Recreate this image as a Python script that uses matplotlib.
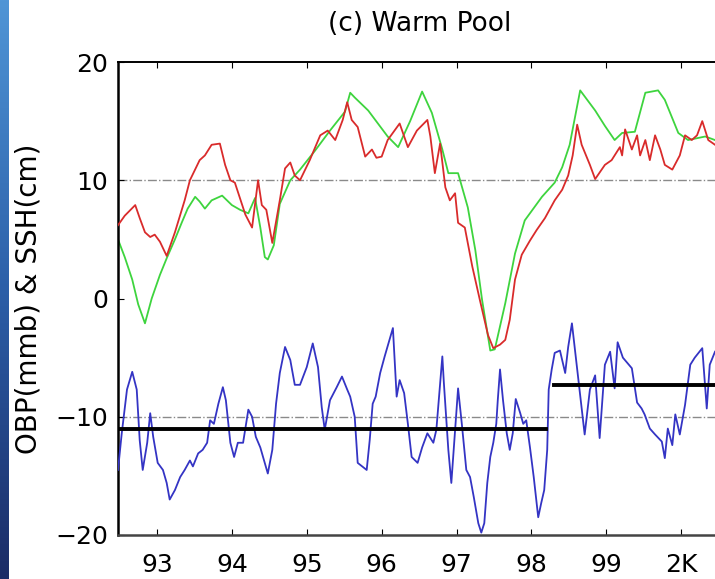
import numpy as np
import matplotlib.pyplot as plt
from matplotlib.colors import LinearSegmentedColormap

# SSH (green), smoother curve
ssh_t = [92.48, 92.57, 92.67, 92.75, 92.84, 92.93, 93.04, 93.13, 93.24, 93.33, 93.41, 93.51,
         93.57, 93.64, 93.73, 93.87, 94.00, 94.11, 94.22, 94.31, 94.38, 94.44, 94.48, 94.56,
         94.64, 94.78, 94.91, 95.11, 95.31, 95.51, 95.58, 95.64, 95.82, 96.08, 96.22, 96.38,
         96.54, 96.67, 96.81, 96.89, 97.02, 97.15, 97.25, 97.34, 97.45, 97.51, 97.65, 97.78,
         97.91, 98.14, 98.31, 98.41, 98.51, 98.65, 98.85, 98.98, 99.11, 99.21, 99.38, 99.52,
         99.69, 99.78, 99.96, 100.09, 100.32, 100.45]
ssh_v = [5.0, 3.5, 1.6, -0.5, -2.1, 0.0, 2.0, 3.4, 5.0, 6.4, 7.6, 8.6,
         8.2, 7.6, 8.3, 8.7, 7.9, 7.5, 7.2, 8.5, 6.0, 3.5, 3.3, 4.5,
         8.0, 10.0, 10.9, 12.5, 14.2, 15.8, 17.4, 17.0, 15.9, 13.7, 12.8, 15.0,
         17.5, 15.7, 12.6, 10.6, 10.6, 7.7, 4.1, -0.1, -4.4, -4.3, -0.4, 3.8,
         6.6, 8.6, 9.8, 11.1, 13.0, 17.6, 15.9, 14.6, 13.4, 14.0, 14.1, 17.4,
         17.6, 16.8, 14.0, 13.4, 13.7, 13.4]

# second SSH estimate (red)
ssh2_t = [92.48, 92.57, 92.71, 92.77, 92.84, 92.91, 92.97, 93.04, 93.13, 93.24, 93.37, 93.44,
          93.57, 93.64, 93.73, 93.84, 93.91, 93.98, 94.04, 94.18, 94.27, 94.35, 94.40, 94.46,
          94.54, 94.64, 94.71, 94.78, 94.84, 94.91, 95.04, 95.18, 95.28, 95.38, 95.48, 95.54,
          95.60, 95.68, 95.78, 95.87, 95.93, 96.00, 96.08, 96.24, 96.35, 96.47, 96.61, 96.65,
          96.71, 96.78, 96.85, 96.91, 96.98, 97.02, 97.11, 97.21, 97.31, 97.42, 97.49, 97.58,
          97.65, 97.71, 97.78, 97.87, 97.98, 98.07, 98.18, 98.31, 98.41, 98.49, 98.55, 98.61,
          98.67, 98.78, 98.85, 98.98, 99.07, 99.18, 99.21, 99.25, 99.34, 99.41, 99.45, 99.52,
          99.58, 99.65, 99.72, 99.78, 99.88, 99.98, 100.05, 100.14, 100.21, 100.28, 100.36, 100.45]
ssh2_v = [6.2, 7.0, 7.9, 6.8, 5.6, 5.2, 5.4, 4.8, 3.6, 5.6, 8.3, 10.0,
          11.7, 12.1, 13.0, 13.1, 11.3, 10.0, 9.8, 7.1, 6.0, 10.0, 7.9, 7.5,
          4.7, 8.3, 11.0, 11.5, 10.4, 10.0, 11.7, 13.8, 14.2, 13.4, 15.1, 16.6,
          15.1, 14.5, 12.0, 12.6, 11.9, 12.0, 13.4, 14.8, 12.8, 14.2, 15.1, 13.7,
          10.6, 13.1, 9.4, 8.3, 8.9, 6.4, 6.0, 2.7, -0.1, -3.1, -4.2, -3.9,
          -3.5, -1.8, 1.6, 3.7, 4.9, 5.8, 6.8, 8.3, 9.2, 10.4, 12.1, 14.7,
          13.0, 11.3, 10.1, 11.3, 11.7, 12.8, 12.1, 14.3, 12.6, 13.8, 12.1, 13.4,
          11.7, 13.8, 12.6, 11.3, 10.9, 12.1, 13.8, 13.4, 13.8, 15.0, 13.4, 13.0]

# OBP (blue)
obp_t = [92.48, 92.53, 92.60, 92.67, 92.73, 92.77, 92.81, 92.87, 92.91, 92.95, 93.01, 93.08,
         93.13, 93.17, 93.24, 93.31, 93.37, 93.44, 93.48, 93.55, 93.61, 93.67, 93.71, 93.76,
         93.82, 93.88, 93.92, 93.98, 94.03, 94.08, 94.15, 94.22, 94.27, 94.32, 94.38, 94.44,
         94.48, 94.54, 94.59, 94.64, 94.71, 94.78, 94.84, 94.91, 95.00, 95.08, 95.15, 95.20,
         95.24, 95.31, 95.40, 95.47, 95.54, 95.58, 95.64, 95.68, 95.74, 95.80, 95.84, 95.88,
         95.92, 95.98, 96.04, 96.15, 96.20, 96.24, 96.30, 96.35, 96.40, 96.48, 96.54, 96.61,
         96.69, 96.73, 96.81, 96.83, 96.89, 96.93, 96.98, 97.02, 97.07, 97.13, 97.18, 97.23,
         97.29, 97.33, 97.37, 97.41, 97.45, 97.49, 97.53, 97.55, 97.58, 97.62, 97.67, 97.71,
         97.75, 97.79, 97.85, 97.89, 97.93, 97.98, 98.03, 98.09, 98.13, 98.17, 98.21, 98.23,
         98.27, 98.31, 98.38, 98.45, 98.49, 98.54, 98.62, 98.71, 98.78, 98.85, 98.91, 98.98,
         99.05, 99.11, 99.15, 99.22, 99.34, 99.41, 99.47, 99.51, 99.58, 99.65, 99.74, 99.78,
         99.82, 99.88, 99.92, 99.98, 100.05, 100.12, 100.18, 100.28, 100.34, 100.38, 100.45]
obp_v = [-14.5, -11.4, -7.7, -6.2, -7.7, -12.0, -14.5, -12.2, -9.7, -11.7, -13.9, -14.5,
         -15.6, -17.0, -16.2, -15.1, -14.5, -13.7, -14.2, -13.1, -12.8, -12.2, -10.3, -10.6,
         -8.9, -7.5, -8.6, -12.2, -13.4, -12.2, -12.2, -9.4, -10.0, -11.7, -12.6, -13.9,
         -14.8, -12.8, -8.9, -6.3, -4.1, -5.2, -7.3, -7.3, -5.8, -3.8, -5.8, -9.2,
         -11.1, -8.6, -7.5, -6.6, -7.7, -8.3, -10.0, -13.9, -14.2, -14.5, -12.0, -8.9,
         -8.3, -6.3, -4.9, -2.5, -8.3, -6.9, -8.0, -10.6, -13.4, -13.9, -12.6, -11.4,
         -12.2, -11.1, -4.9, -7.1, -12.8, -15.6, -11.1, -7.6, -10.6, -14.5, -15.1, -16.8,
         -19.0, -19.8, -19.0, -15.6, -13.4, -12.2, -10.6, -8.6, -6.0, -8.6, -11.4, -12.8,
         -11.4, -8.5, -9.7, -10.6, -10.3, -12.6, -15.1, -18.5, -17.3, -16.2, -12.8, -7.7,
         -6.0, -4.6, -4.4, -6.3, -4.1, -2.1, -6.5, -11.5, -7.7, -6.5, -11.8, -5.6,
         -4.5, -7.6, -3.7, -5.0, -5.9, -8.8, -9.3, -9.8, -11.0, -11.5, -12.1, -13.5,
         -11.0, -12.4, -9.8, -11.5, -9.0, -5.6, -5.0, -4.2, -9.3, -5.6, -4.5]

# mean OBP before / after the 1998 shift
mean_t0 = [92.48, 98.19]
mean_v0 = -11.0
mean_t1 = [98.30, 100.45]
mean_v1 = -7.3

year_ticks = [93, 94, 95, 96, 97, 98, 99, 100]
year_labels = ['93', '94', '95', '96', '97', '98', '99', '2K']

plt.rcParams['font.family'] = ['DejaVu Sans']

fig = plt.figure(figsize=(7.15, 5.79), dpi=100)
fig.patch.set_facecolor('white')

# slide background strip on the left edge
strip = fig.add_axes([0, 0, 9 / 715, 1])
grad = np.linspace(0, 1, 256).reshape(-1, 1)
cm = LinearSegmentedColormap.from_list('slide', ['#4f95d6', '#2c5fa8', '#1b2c66'])
strip.imshow(grad, aspect='auto', cmap=cm)
strip.axis('off')

ax = fig.add_axes([118 / 715, 44 / 579, 597 / 715, 473 / 579])

ax.axhline(10, color='#8a8a8a', lw=1, ls='-.', zorder=1)
ax.axhline(-10, color='#8a8a8a', lw=1, ls='-.', zorder=1)

ax.plot(ssh_t, ssh_v, color='#3ed43e', lw=1.3, zorder=2)
ax.plot(ssh2_t, ssh2_v, color='#d92b2b', lw=1.3, zorder=3)
ax.plot(obp_t, obp_v, color='#3434c4', lw=1.3, zorder=3)

ax.plot(mean_t0, [mean_v0, mean_v0], color='black', lw=2.8, zorder=4)
ax.plot(mean_t1, [mean_v1, mean_v1], color='black', lw=2.8, zorder=4)

ax.set_xlim(92.48, 100.45)
ax.set_ylim(-20, 20)
ax.set_xticks(year_ticks)
ax.set_xticklabels(year_labels)
ax.set_yticks([-20, -10, 0, 10, 20])
ax.set_yticklabels(['\u221220', '\u221210', '0', '10', '20'])

ax.tick_params(axis='x', direction='in', top=True, length=4, pad=13, labelsize=18)
ax.tick_params(axis='y', direction='in', length=4, pad=7, labelsize=18)

ax.spines['right'].set_visible(False)
ax.spines['left'].set_linewidth(1.8)
ax.spines['top'].set_linewidth(1.4)
ax.spines['bottom'].set_linewidth(1.8)
ax.spines['bottom'].set_color('#444444')

ax.set_ylabel('OBP(mmb) & SSH(cm)', fontsize=20)
ax.yaxis.set_label_coords(-0.127, 0.5)

fig.text(0.587, 0.958, '(c) Warm Pool', fontsize=19, ha='center', va='center')

plt.savefig('out.png', dpi=100)
